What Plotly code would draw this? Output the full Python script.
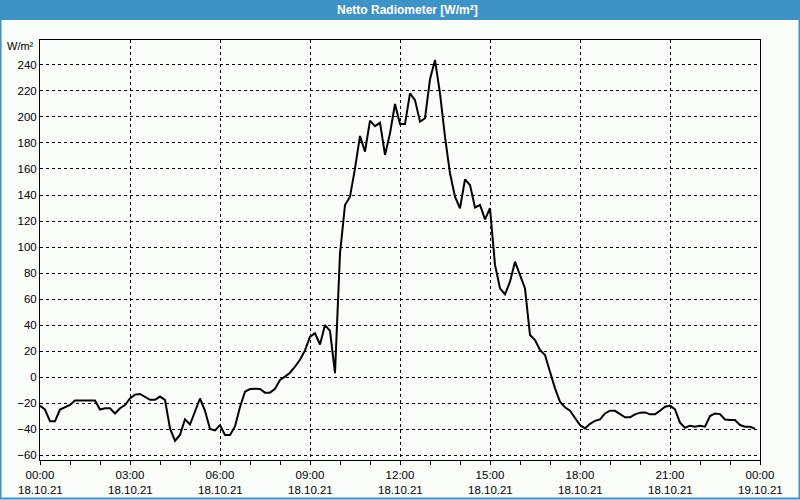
import pandas as pd
import plotly.graph_objects as go

# 10-minute samples, 18.10.21 00:00 .. 23:50
start = "2021-10-18 00:00"
values = [
    -22, -25, -34, -34, -25, -23, -21.5, -18, -18, -18, -18, -18,
    -25, -24, -24, -28, -24, -21.5, -16.5, -13.5, -13, -15, -17.5, -17.5,
    -15, -17.5, -39.5, -49, -44.5, -32.5, -36.5, -26.5, -16.5, -26, -40, -41,
    -37, -44.5, -44.5, -38, -23, -11.3, -9.2, -9, -9.2, -12, -12, -9,
    -2.3, 0.3, 3.3, 8, 13.3, 20.5, 31, 33.6, 25, 40, 35.5, 3,
    95, 132.3, 138.7, 160.5, 185.4, 173.3, 197.2, 193, 195.6, 170.8, 187.4, 210,
    194.6, 194.6, 218.2, 213, 196.4, 199, 229, 243.8, 218.2, 184.8, 156.7, 138.7,
    129.8, 152, 147.7, 130.4, 132.3, 121.3, 129.8, 86.2, 68.2, 63.6, 73.3, 88.7,
    78.5, 68.2, 32.3, 28.5, 20.8, 16.9, 4.1, -8.7, -19, -23.3, -25.9, -31.8,
    -36.9, -39.5, -36, -33.7, -32.6, -28, -25.9, -26, -28.5, -31, -31, -28.7,
    -27.4, -27.2, -28.7, -28.7, -25.9, -22.8, -22, -24.9, -35.1, -39, -37.4, -38.2,
    -37.4, -38.2, -30, -28, -28.5, -32.6, -33, -33, -36.9, -38.2, -38.2, -39.7,
]
times = pd.date_range(start, periods=len(values), freq="10min")

tick_times = ["2021-10-18 00:00", "2021-10-18 03:00", "2021-10-18 06:00", "2021-10-18 09:00",
              "2021-10-18 12:00", "2021-10-18 15:00", "2021-10-18 18:00", "2021-10-18 21:00",
              "2021-10-19 00:00"]
tick_hours = ["00:00", "03:00", "06:00", "09:00", "12:00", "15:00", "18:00", "21:00", "00:00"]
tick_dates = ["18.10.21", "18.10.21", "18.10.21", "18.10.21", "18.10.21",
              "18.10.21", "18.10.21", "18.10.21", "19.10.21"]

title = "Netto Radiometer [W/m²]"
unit = "W/m²"

BG = "#fbfdfb"
BLUE = "#3d93c5"
FONT = "Liberation Sans"

fig = go.Figure()
fig.add_trace(go.Scatter(x=times, y=values, mode="lines",
                         line=dict(color="black", width=2), hoverinfo="skip"))

# plot area: x 40..760, y 40..460  (720 x 420)
W, H, L, T = 720, 420, 40, 40
def px_x(p): return (p - L) / W
def px_y(p): return (T + H - p) / H

fig.update_layout(
    width=800, height=500,
    margin=dict(l=40, r=40, t=40, b=40),
    paper_bgcolor=BG, plot_bgcolor=BG,
    showlegend=False,
    font=dict(family=FONT, size=11, color="black"),
    xaxis=dict(
        type="date",
        range=[tick_times[0], tick_times[-1]],
        tickvals=tick_times, ticktext=tick_hours,
        showgrid=True, gridcolor="black", gridwidth=1, griddash="3px,3px",
        showline=True, linecolor="black", linewidth=1, mirror=True,
        ticks="outside", ticklen=4, tickcolor="black",
        minor=dict(dtick=3600000, ticks="outside", ticklen=4, tickcolor="black", showgrid=False),
        tickfont=dict(family=FONT, size=11.5, color="black"),
        zeroline=False, fixedrange=True,
    ),
    yaxis=dict(
        range=[-63.8, 259.2],
        tick0=0, dtick=20,
        showgrid=True, gridcolor="black", gridwidth=1, griddash="3px,3px",
        showline=True, linecolor="black", linewidth=1, mirror=True,
        ticks="", tickfont=dict(family=FONT, size=11.5, color="black"),
        zeroline=False, fixedrange=True,
    ),
)

shapes = [
    dict(type="rect", xref="paper", yref="paper",
         x0=px_x(0), x1=px_x(800), y0=px_y(20), y1=px_y(0),
         fillcolor=BLUE, line=dict(width=0), layer="above"),
    dict(type="rect", xref="paper", yref="paper",
         x0=px_x(0.5), x1=px_x(799.5), y0=px_y(498.5), y1=px_y(0.5),
         fillcolor="rgba(0,0,0,0)", line=dict(color=BLUE, width=2), layer="above"),
]
fig.update_layout(shapes=shapes)

annotations = [
    dict(text=f"<b>{title}</b>", xref="paper", yref="paper", x=px_x(407), y=px_y(10),
         xanchor="center", yanchor="middle", showarrow=False,
         font=dict(family=FONT, size=12, color="white")),
    dict(text=unit, xref="paper", yref="paper", x=px_x(36), y=px_y(46),
         xanchor="right", yanchor="middle", showarrow=False,
         font=dict(family=FONT, size=11, color="black")),
]
for t, d in zip(tick_times, tick_dates):
    annotations.append(dict(text=d, x=t, xref="x", yref="paper", y=0, yshift=-30,
                            xanchor="center", yanchor="middle", showarrow=False,
                            font=dict(family=FONT, size=11.5, color="black")))
fig.update_layout(annotations=annotations)

fig.write_html("out.html")
